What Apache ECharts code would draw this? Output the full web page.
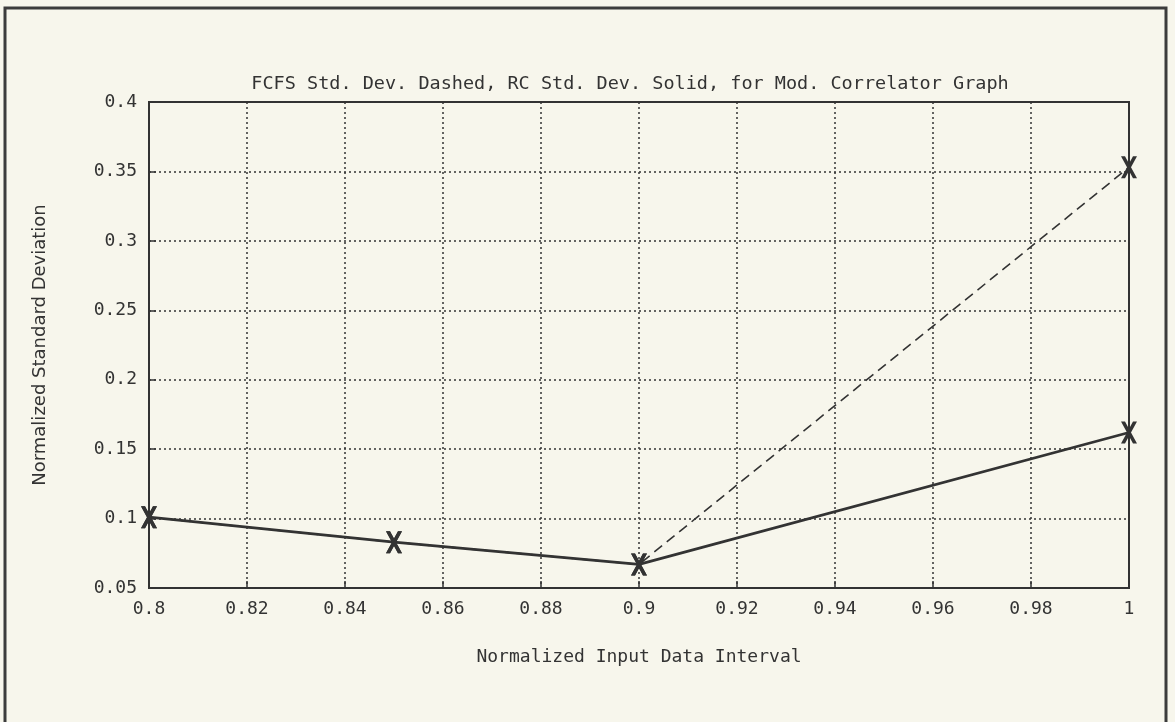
<!DOCTYPE html>
<html>
<head>
<meta charset="utf-8">
<script src="https://cdn.jsdelivr.net/npm/echarts@6/dist/echarts.min.js"></script>
<style>
html,body{margin:0;padding:0;background:#f7f6ec;}
#chart{width:1175px;height:722px;}
</style>
</head>
<body>
<div id="chart"></div>
<script>
// ---- data ----
const xValues = [0.8, 0.85, 0.9, 1.0];
const rcStdDev = [0.101, 0.083, 0.067, 0.162];      // solid
const fcfsStdDev = [0.101, 0.083, 0.067, 0.353];    // dashed
const xTickLabels = ['0.8','0.82','0.84','0.86','0.88','0.9','0.92','0.94','0.96','0.98','1'];
const yTickLabels = ['0.05','0.1','0.15','0.2','0.25','0.3','0.35','0.4'];
const titleText = 'FCFS Std. Dev. Dashed, RC Std. Dev. Solid, for Mod. Correlator Graph';
const xName = 'Normalized Input Data Interval';
const yName = 'Normalized Standard Deviation';

const ink = '#333333';
const FONT = 'DejaVu Sans';
const MONO = 'DejaVu Sans Mono';
const xMarker = 'path://M0,0 L4,0 L16,22 L12,22 Z M12,0 L16,0 L4,22 L0,22 Z';

const chart = echarts.init(document.getElementById('chart'), null, {renderer:'canvas'});
chart.setOption({
  backgroundColor: '#f7f6ec',
  animation: false,
  title: {
    text: titleText,
    left: 625, top: 70, textAlign: 'center',
    textStyle: {fontFamily: MONO, fontSize: 18.5, fontWeight: 'normal', color: ink}
  },
  graphic: [{
    type: 'rect', silent: true,
    shape: {x: 5, y: 8, width: 1161, height: 730},
    style: {fill: null, stroke: '#3c3c3c', lineWidth: 3}
  }],
  grid: {
    left: 149, right: 46, top: 102, bottom: 134,
    show: true, borderColor: ink, borderWidth: 2, backgroundColor: 'transparent'
  },
  xAxis: {
    type: 'value', min: 0.8, max: 1, interval: 0.02,
    name: xName, nameLocation: 'middle', nameGap: 60,
    nameTextStyle: {fontFamily: MONO, fontSize: 18, color: ink},
    axisLine: {show: false},
    axisTick: {show: true, inside: true, length: 7, lineStyle: {color: ink, width: 1.5}},
    axisLabel: {
      fontFamily: MONO, fontSize: 18, color: ink, margin: 12,
      formatter: v => xTickLabels[Math.round((v - 0.8) / 0.02)]
    },
    splitLine: {show: true, lineStyle: {color: ink, width: 1.5, type: [2, 3]}}
  },
  yAxis: {
    type: 'value', min: 0.05, max: 0.4, interval: 0.05,
    name: yName, nameLocation: 'middle', nameGap: 100,
    nameTextStyle: {fontFamily: FONT, fontSize: 18, color: ink},
    axisLine: {show: false},
    axisTick: {show: true, inside: true, length: 7, lineStyle: {color: ink, width: 1.5}},
    axisLabel: {
      fontFamily: MONO, fontSize: 18, color: ink, margin: 12,
      formatter: v => yTickLabels[Math.round((v - 0.05) / 0.05)]
    },
    splitLine: {show: true, lineStyle: {color: ink, width: 1.5, type: [2, 3]}}
  },
  series: [{
    name: 'FCFS', type: 'line',
    data: xValues.map((x, i) => [x, fcfsStdDev[i]]),
    lineStyle: {color: ink, width: 1.6, type: [10, 6]},
    symbol: xMarker, symbolSize: [16, 22], symbolKeepAspect: false,
    itemStyle: {color: ink},
    z: 2
  }, {
    name: 'RC', type: 'line',
    data: xValues.map((x, i) => [x, rcStdDev[i]]),
    lineStyle: {color: ink, width: 2.8, type: 'solid'},
    symbol: xMarker, symbolSize: [16, 22], symbolKeepAspect: false,
    itemStyle: {color: ink},
    z: 3
  }]
});
</script>
</body>
</html>
